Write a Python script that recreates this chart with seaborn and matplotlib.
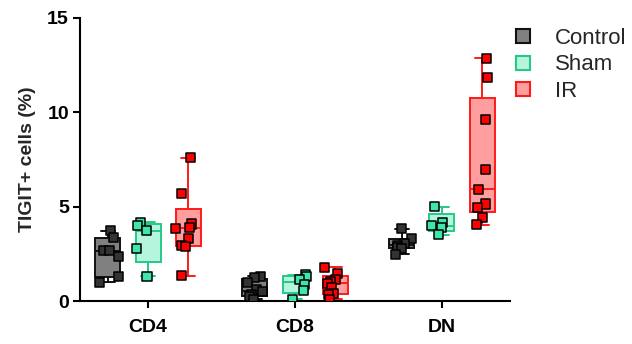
import numpy as np
import pandas as pd
import matplotlib
matplotlib.use("Agg")
import matplotlib.pyplot as plt
import seaborn as sns
from matplotlib.lines import Line2D

# ---- data ----
cells = ["CD4", "CD8", "DN"]
groups = ["Control", "Sham", "IR"]

control_cd4 = [3.71, 3.35, 2.70, 2.67, 2.38, 1.29, 0.99]
sham_cd4 = [4.17, 3.99, 3.71, 2.76, 1.32]
ir_cd4 = [7.59, 5.71, 4.08, 3.91, 3.85, 3.32, 2.93, 2.88, 1.34]

control_cd8 = [1.32, 1.26, 0.97, 0.62, 0.49, 0.32, 0.23, 0.09]
sham_cd8 = [1.38, 1.29, 1.15, 0.85, 0.55, 0.09]
ir_cd8 = [1.79, 1.46, 1.15, 1.02, 0.94, 0.69, 0.41, 0.37, 0.09]

control_dn = [3.84, 3.29, 3.05, 2.95, 2.82, 2.80, 2.47]
sham_dn = [5.00, 4.17, 3.99, 3.88, 3.50]
ir_dn = [12.86, 11.83, 9.63, 6.98, 5.92, 5.14, 4.97, 4.41, 4.03]

y_ticks = [0, 5, 10, 15]
y_label = "TIGIT+ cells (%)"

series = {
    ("CD4", "Control"): control_cd4, ("CD4", "Sham"): sham_cd4, ("CD4", "IR"): ir_cd4,
    ("CD8", "Control"): control_cd8, ("CD8", "Sham"): sham_cd8, ("CD8", "IR"): ir_cd8,
    ("DN", "Control"): control_dn, ("DN", "Sham"): sham_dn, ("DN", "IR"): ir_dn,
}
rows = [(c, g, v) for (c, g), vals in series.items() for v in vals]
df = pd.DataFrame(rows, columns=["cell", "group", "value"])

# ---- styles ----
box_fill = {"Control": "#808080", "Sham": "#b5f5de", "IR": "#ff9e9e"}
box_edge = {"Control": "#111111", "Sham": "#25c985", "IR": "#ff1a1a"}
point_col = {"Control": "#333333", "Sham": "#3ee6ac", "IR": "#ff0000"}

sns.set_theme(style="ticks")
plt.rcParams["font.family"] = ["Liberation Sans", "DejaVu Sans"]

fig = plt.figure(figsize=(6.32, 3.44), dpi=100)
ax = fig.add_axes([0.1266, 0.125, 0.6804, 0.823])

dodge_w = 0.82
step = dodge_w / len(groups)
box_w = 0.17

# boxes: min-max whiskers, quartiles via (n+1)p method
for gi, g in enumerate(groups):
    stats, pos = [], []
    for ci, c in enumerate(cells):
        v = np.asarray(series[(c, g)])
        q1, med, q3 = np.percentile(v, [25, 50, 75], method="weibull")
        stats.append(dict(med=med, q1=q1, q3=q3, whislo=v.min(), whishi=v.max(), fliers=[]))
        pos.append(ci + (gi - 1) * step)
    ax.bxp(stats, positions=pos, widths=box_w, capwidths=box_w * 0.55,
           patch_artist=True, showfliers=False, manage_ticks=False,
           boxprops=dict(facecolor=box_fill[g], edgecolor=box_edge[g], linewidth=1.4),
           medianprops=dict(color=box_edge[g], linewidth=1.4),
           whiskerprops=dict(color=box_edge[g], linewidth=1.4),
           capprops=dict(color=box_edge[g], linewidth=1.4), zorder=2)

np.random.seed(3)
sns.stripplot(data=df, x="cell", y="value", hue="group", order=cells, hue_order=groups,
              palette=point_col, dodge=True, jitter=0.25, marker="s", size=6.5,
              edgecolor="black", linewidth=1.1, ax=ax, legend=False, zorder=3)

ax.set_xlim(-0.463, 2.463)
ax.set_ylim(0, 15)
ax.set_yticks(y_ticks)
ax.set_xlabel("")
ax.set_ylabel(y_label, fontsize=14, fontweight="bold", labelpad=8)
for lab in ax.get_xticklabels() + ax.get_yticklabels():
    lab.set_fontweight("bold")
    lab.set_fontsize(14)
for s in ["top", "right"]:
    ax.spines[s].set_visible(False)
for s in ["left", "bottom"]:
    ax.spines[s].set_linewidth(1.5)
    ax.spines[s].set_color("black")
ax.tick_params(axis="both", length=5, width=1.5, color="black", labelcolor="black")
ax.tick_params(axis="x", pad=8)
ax.tick_params(axis="y", pad=3)

handles = [Line2D([], [], linestyle="", marker="s", markersize=10.5,
                  markerfacecolor=box_fill[g], markeredgecolor=box_edge[g],
                  markeredgewidth=1.5, label=g) for g in groups]
fig.legend(handles=handles, loc="upper left", bbox_to_anchor=(0.778, 0.945),
           frameon=False, fontsize=16, handletextpad=0.45, labelspacing=0.25,
           borderaxespad=0)

fig.savefig("out.png", dpi=100)
